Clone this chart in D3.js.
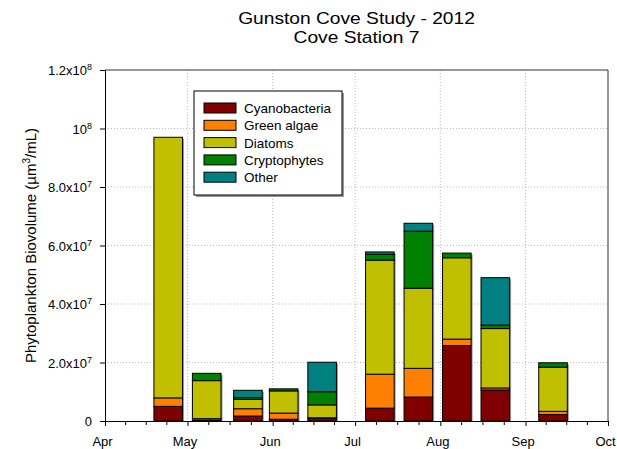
<!DOCTYPE html>
<html>
<head>
<meta charset="utf-8">
<script src="https://cdn.jsdelivr.net/npm/d3@7"></script>
<style>
  body { margin: 0; background: #fff; }
  text { font-family: "Liberation Sans", Arial, sans-serif; fill: #000; }
</style>
</head>
<body>
<div id="chart"></div>
<script>
// sampling dates and biovolume per group (um^3/mL)
const dates = ["2012-04-24", "2012-05-08", "2012-05-23", "2012-06-05", "2012-06-19",
               "2012-07-10", "2012-07-24", "2012-08-07", "2012-08-21", "2012-09-11"];
const cyanobacteria = [5.0e6, 0.3e6, 1.7e6, 0.6e6, 0.9e6, 4.4e6, 8.2e6, 25.8e6, 10.6e6, 2.2e6];
const greenAlgae    = [2.9e6, 0.5e6, 2.5e6, 2.1e6, 0.2e6, 11.6e6, 9.8e6, 2.2e6, 0.7e6, 1.1e6];
const diatoms       = [89.1e6, 13.0e6, 3.2e6, 7.6e6, 4.4e6, 39.0e6, 27.4e6, 27.8e6, 20.3e6, 15.1e6];
const cryptophytes  = [0, 2.5e6, 0.6e6, 0.7e6, 4.5e6, 2.0e6, 19.5e6, 1.6e6, 1.2e6, 1.5e6];
const other         = [0, 0, 2.5e6, 0, 10.1e6, 0.8e6, 2.7e6, 0, 16.2e6, 0];

const groupNames = ["Cyanobacteria", "Green algae", "Diatoms", "Cryptophytes", "Other"];
const groupColors = ["#800000", "#ff8000", "#c0c000", "#008000", "#008080"];
const yTicks = [0, 2e7, 4e7, 6e7, 8e7, 1e8, 1.2e8];

const width = 617, height = 449;
const margin = {left: 105, right: 9, top: 70, bottom: 28};

const parse = d3.utcParse("%Y-%m-%d");
const series = [cyanobacteria, greenAlgae, diatoms, cryptophytes, other];
const rows = dates.map((d, i) => {
  const r = {date: parse(d)};
  groupNames.forEach((g, j) => r[g] = series[j][i]);
  return r;
});
const stacked = d3.stack().keys(groupNames)(rows);

const svg = d3.select("#chart").append("svg")
  .attr("width", width).attr("height", height);

const x = d3.scaleUtc()
  .domain([parse("2012-04-01"), parse("2012-10-01")])
  .range([margin.left, width - margin.right]);
const y = d3.scaleLinear()
  .domain([0, 1.2e8])
  .range([height - margin.bottom, margin.top]);

const months = d3.utcMonth.range(parse("2012-04-01"), parse("2012-10-02"));

// grid
svg.append("g").selectAll("line")
  .data(yTicks.slice(1, -1))
  .join("line")
  .attr("x1", margin.left).attr("x2", width - margin.right)
  .attr("y1", d => y(d)).attr("y2", d => y(d))
  .attr("stroke", "#bbb").attr("stroke-dasharray", "1,2");
svg.append("g").selectAll("line")
  .data(months.slice(1, -1))
  .join("line")
  .attr("y1", margin.top).attr("y2", height - margin.bottom)
  .attr("x1", d => x(d)).attr("x2", d => x(d))
  .attr("stroke", "#bbb").attr("stroke-dasharray", "1,2");

// bars
const halfDays = 5.2;
const left = dt => x(new Date(dt.getTime() - halfDays * 864e5));
const right = dt => x(new Date(dt.getTime() + halfDays * 864e5));
const total = r => d3.sum(groupNames, g => r[g]);

// shadow
svg.append("g").selectAll("rect")
  .data(rows)
  .join("rect")
  .attr("x", d => left(d.date) + 1.5)
  .attr("width", d => right(d.date) - left(d.date))
  .attr("y", d => y(total(d)) + 1.5)
  .attr("height", d => y(0) - y(total(d)) - 1.5)
  .attr("fill", "#999");

svg.append("g").selectAll("g")
  .data(stacked)
  .join("g")
  .attr("fill", (s, i) => groupColors[i])
  .selectAll("rect")
  .data(s => s.filter(d => d[1] > d[0]))
  .join("rect")
  .attr("x", d => left(d.data.date))
  .attr("width", d => right(d.data.date) - left(d.data.date))
  .attr("y", d => y(d[1]))
  .attr("height", d => y(d[0]) - y(d[1]))
  .attr("stroke", "#000").attr("stroke-width", 1);

// frame
svg.append("line")
  .attr("x1", margin.left).attr("x2", width - margin.right)
  .attr("y1", margin.top).attr("y2", margin.top)
  .attr("stroke", "#333");
svg.append("line")
  .attr("x1", width - margin.right).attr("x2", width - margin.right)
  .attr("y1", margin.top).attr("y2", height - margin.bottom)
  .attr("stroke", "#333");

// x axis
const xAxis = svg.append("g")
  .attr("transform", `translate(0,${height - margin.bottom})`)
  .call(d3.axisBottom(x).tickValues(months).tickFormat(d3.utcFormat("%b")).tickSize(5).tickPadding(11));
xAxis.select(".domain").attr("stroke", "#000");
xAxis.selectAll(".tick text").attr("font-size", 13).attr("dx", -3)
  .style("font-family", "Liberation Sans, Arial, sans-serif");

// minor x ticks, 4 per month
const minor = [];
for (let i = 0; i < months.length - 1; i++) {
  const a = x(months[i]), b = x(months[i + 1]);
  for (let k = 1; k < 4; k++) minor.push(a + (b - a) * k / 4);
}
svg.append("g").selectAll("line")
  .data(minor)
  .join("line")
  .attr("x1", d => d).attr("x2", d => d)
  .attr("y1", height - margin.bottom).attr("y2", height - margin.bottom + 4)
  .attr("stroke", "#000");

// y axis
const yAxis = svg.append("g")
  .attr("transform", `translate(${margin.left},0)`)
  .call(d3.axisLeft(y).tickValues(yTicks).tickFormat("").tickSize(5));
yAxis.select(".domain").attr("stroke", "#000");

const yLabels = svg.append("g").selectAll("text")
  .data(yTicks)
  .join("text")
  .attr("x", margin.left - 13)
  .attr("y", d => y(d) + 5)
  .attr("text-anchor", "end")
  .attr("font-size", 13);
yLabels.each(function(d) {
  const t = d3.select(this);
  if (d === 0) { t.text("0"); return; }
  const e = Math.floor(Math.log10(d) + 1e-9);
  const m = d / Math.pow(10, e);
  t.append("tspan").text(m === 1 ? "10" : m.toFixed(1) + "x10");
  t.append("tspan").attr("dy", -5).attr("font-size", 9).text(e);
});

// y label
const yl = svg.append("text")
  .attr("transform", `translate(36,${(margin.top + height - margin.bottom) / 2}) rotate(-90)`)
  .attr("text-anchor", "middle")
  .attr("font-size", 15);
yl.append("tspan").text("Phytoplankton Biovolume (µm");
yl.append("tspan").attr("dy", -6).attr("font-size", 10).text("3");
yl.append("tspan").attr("dy", 6).text("/mL)");

// title (source font is a bit wider than Liberation Sans)
const cx = (margin.left + width - margin.right) / 2;
svg.append("text").attr("transform", `translate(${cx},23.5) scale(1.2,1)`)
  .attr("text-anchor", "middle").attr("font-size", 16).text("Gunston Cove Study - 2012");
svg.append("text").attr("transform", `translate(${cx},42.5) scale(1.2,1)`)
  .attr("text-anchor", "middle").attr("font-size", 16).text("Cove Station 7");

// legend
const lg = svg.append("g").attr("transform", "translate(194,91)");
lg.append("rect").attr("x", 2).attr("y", 2).attr("width", 148).attr("height", 104).attr("fill", "#999");
lg.append("rect").attr("width", 148).attr("height", 104).attr("fill", "#fff").attr("stroke", "#000");
const items = lg.selectAll("g.item")
  .data(groupNames)
  .join("g")
  .attr("class", "item")
  .attr("transform", (d, i) => `translate(10,${12 + i * 17.3})`);
items.append("rect").attr("width", 32).attr("height", 10)
  .attr("fill", (d, i) => groupColors[i]).attr("stroke", "#000");
items.append("text").attr("x", 40).attr("y", 10).attr("font-size", 13.5).text(d => d);
</script>
</body>
</html>
